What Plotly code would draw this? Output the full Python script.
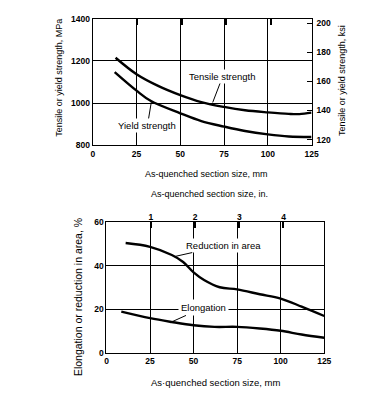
import plotly.graph_objects as go

W, H = 383, 397

# ---------------- data ----------------
# top chart: strength vs as-quenched section size (mm)
tensile_mm = [13, 25, 37, 50, 62, 75, 87, 100, 112, 118, 125]
tensile_mpa = [1215, 1137, 1083, 1038, 1005, 982, 966, 956, 949, 948, 955]
yield_mm = [12.5, 25, 33, 50, 62, 75, 87, 100, 112, 125]
yield_mpa = [1147, 1059, 1011, 952, 915, 889, 868, 852, 842, 840]

# bottom chart: ductility vs section size (mm)
ra_mm = [11, 25, 37.5, 44, 50, 56, 65, 75, 88, 100, 112, 125]
ra_pct = [50.5, 48.75, 45, 41.8, 37, 33.5, 30.2, 29.2, 27, 25, 21.3, 17]
el_mm = [8.5, 25, 37.5, 50, 62, 75, 88, 100, 112, 125]
el_pct = [19, 16, 14.25, 12.75, 12, 12, 11.25, 10.2, 8.5, 7]

mm_ticks = [0, 25, 50, 75, 100, 125]
mpa_ticks = [800, 1000, 1200, 1400]
ksi_ticks = [120, 140, 160, 180, 200]
pct_ticks = [0, 20, 40, 60]
inch_ticks = [1, 2, 3, 4]
MM_PER_IN = 25.4
MPA_PER_KSI = 6.895

TFONT = "Liberation Sans, Arial"
TICKF = dict(family=TFONT, size=8.5, color="black", weight="bold")


def px(x):
    return x / W


def py(y):
    return 1 - y / H


top_xd = [px(93), px(317)]
top_yd = [py(144), py(14)]
bot_xd = [px(107), px(330)]
bot_yd = [py(357), py(223)]

fig = go.Figure()
curve = dict(color="black", width=2.4, shape="spline", smoothing=1)
fig.add_trace(go.Scatter(x=tensile_mm, y=tensile_mpa, mode="lines", line=curve, xaxis="x", yaxis="y"))
fig.add_trace(go.Scatter(x=yield_mm, y=yield_mpa, mode="lines", line=curve, xaxis="x", yaxis="y"))
fig.add_trace(go.Scatter(x=ra_mm, y=ra_pct, mode="lines", line=curve, xaxis="x3", yaxis="y3"))
fig.add_trace(go.Scatter(x=el_mm, y=el_pct, mode="lines", line=curve, xaxis="x3", yaxis="y3"))
# empty traces to activate overlay axes
fig.add_trace(go.Scatter(x=[None], y=[None], xaxis="x2", yaxis="y2", showlegend=False))
fig.add_trace(go.Scatter(x=[None], y=[None], xaxis="x4", yaxis="y3", showlegend=False))

grid = dict(showgrid=True, gridcolor="black", gridwidth=1.2, zeroline=False,
            showline=True, linecolor="black", linewidth=1.3, mirror=True,
            ticks="", tickfont=TICKF)

inch_vals = [i * MM_PER_IN for i in inch_ticks]

fig.update_layout(
    width=W, height=H, margin=dict(l=0, r=0, t=0, b=0),
    paper_bgcolor="white", plot_bgcolor="white", showlegend=False,
    xaxis=dict(domain=top_xd, anchor="y", range=[0, 125], tickvals=mm_ticks, **grid),
    yaxis=dict(domain=top_yd, anchor="x", range=[800, 1400], tickvals=mpa_ticks, **grid),
    yaxis2=dict(overlaying="y", anchor="x", side="right",
                range=[800 / MPA_PER_KSI, 1400 / MPA_PER_KSI], tickvals=ksi_ticks,
                ticks="inside", ticklen=5, tickwidth=1.3, tickcolor="black",
                ticklabelstandoff=4,
                showgrid=False, zeroline=False, showline=False, tickfont=TICKF),
    xaxis2=dict(overlaying="x", anchor="y2", side="top", range=[0, 125],
                tickvals=inch_vals, ticks="inside", ticklen=6, tickwidth=2, tickcolor="black",
                showticklabels=False, showgrid=False, zeroline=False, showline=False),
    xaxis3=dict(domain=bot_xd, anchor="y3", range=[0, 125], tickvals=mm_ticks, **grid),
    yaxis3=dict(domain=bot_yd, anchor="x3", range=[0, 60], tickvals=pct_ticks, **grid),
    xaxis4=dict(overlaying="x3", anchor="y3", side="top", range=[0, 125],
                tickvals=inch_vals, ticktext=[str(i) for i in inch_ticks],
                ticks="inside", ticklen=6, tickwidth=2, tickcolor="black",
                showgrid=False, zeroline=False, showline=False, tickfont=TICKF),
)

ann_font = dict(family=TFONT, size=9.5, color="black")
# curve labels with leader lines
fig.add_annotation(x=68.5, y=1003, xref="x", yref="y", text="Tensile strength",
                   showarrow=True, arrowhead=0, arrowwidth=1, arrowcolor="black",
                   ax=10, ay=-26, font=ann_font, bgcolor="white", borderpad=1)
fig.add_annotation(x=33.5, y=1008, xref="x", yref="y", text="Yield strength",
                   showarrow=True, arrowhead=0, arrowwidth=1, arrowcolor="black",
                   ax=-4, ay=24, font=ann_font, bgcolor="white", borderpad=1)
fig.add_annotation(x=39, y=44.3, xref="x3", yref="y3", text="Reduction in area",
                   showarrow=True, arrowhead=0, arrowwidth=1, arrowcolor="black",
                   ax=49, ay=-11, font=ann_font, bgcolor="white", borderpad=1)
fig.add_annotation(x=38, y=14.5, xref="x3", yref="y3", text="Elongation",
                   showarrow=True, arrowhead=0, arrowwidth=1, arrowcolor="black",
                   ax=31, ay=-14, font=ann_font, bgcolor="white", borderpad=2)

# axis titles
def title(text, x, y, size, angle=0):
    fig.add_annotation(x=px(x), y=py(y), xref="paper", yref="paper", text=text,
                       showarrow=False, textangle=angle, xanchor="center", yanchor="middle",
                       font=dict(family=TFONT, size=size, color="black"))

title("As-quenched section size, mm", 209, 173, 9)
title("As-quenched section size, in.", 212, 193.5, 9)
title("As·quenched section size, mm", 219, 387, 9.5)
title("Tensile or yield strength, MPa", 58, 75, 9, -90)
title("Tensile or yield strength, ksi", 348, 77, 9, -90)
title("Elongation or reduction in area, %", 78.5, 300, 10.5, -90)

fig.write_html("out.html", config={"displayModeBar": False},
               post_script="document.body.style.margin='0';document.body.style.padding='0';")
